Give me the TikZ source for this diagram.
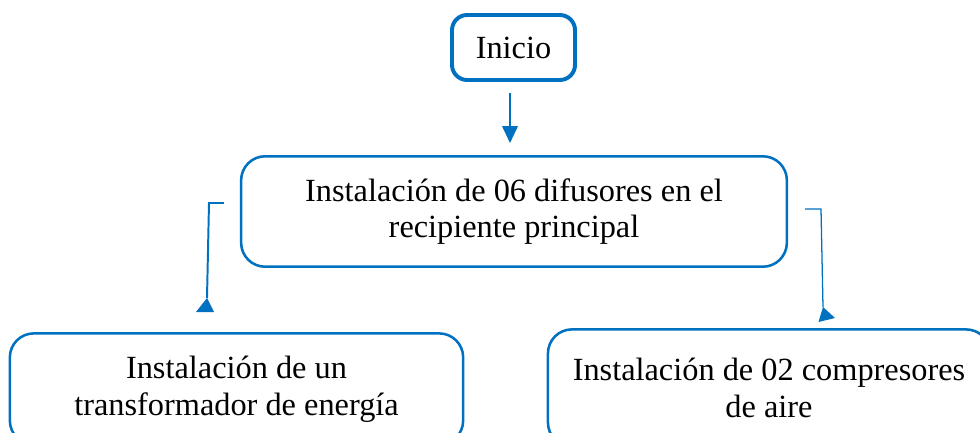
\documentclass[tikz,border=0pt]{standalone}
\usepackage{fontspec}
\setmainfont{Liberation Serif}
\usetikzlibrary{arrows.meta,calc}
\definecolor{flowblue}{RGB}{0,112,192}
\tikzset{
  box/.style={draw=flowblue, rounded corners=0.6cm, line width=1.8pt, align=center,
    inner sep=0pt, font=\fontsize{23}{26}\selectfont},
  link/.style={draw=flowblue, line width=1.4pt},
}
\begin{document}
\begin{tikzpicture}[x=0.025cm,y=-0.025cm]
        \useasboundingbox (0,0) rectangle (980,433);
        \clip (0,0) rectangle (980,433);

        % Boxes
        \node[box, line width=2.8pt, rounded corners=0.38cm, minimum width=3.075cm, minimum height=1.625cm]
            (inicio) at (513.5,47.5) {Inicio};
        \node[box, minimum width=13.64cm, minimum height=2.76cm]
            (difusores) at (514,211.5) {Instalación de 06 difusores en el\\recipiente principal};
        \node[box, minimum width=11.33cm, minimum height=2.78cm]
            (trafo) at (236.5,389) {Instalación de un\\transformador de energía};
        \node[box, minimum width=11.05cm, minimum height=2.93cm]
            (compresores) at (769,388) {Instalación de 02 compresores\\de aire};

        % Arrow from Inicio
        \draw[link, -{Triangle[width=11pt,length=12pt]}, shorten <=0.27cm, shorten >=0.3cm]
            (inicio.south -| 510,0) -- (difusores.north -| 510,0);

        % Side connectors
        \coordinate (lstart) at ($(difusores.west)+(-16,-8.5)$);
        \coordinate (lbend) at (209,203);
        \coordinate (ltip) at (207,298);
        \draw[link] (lstart) -- (lbend) -- (ltip);
        \fill[flowblue] (ltip) -- ++(-11,14) -- ++(18,0) -- cycle;

        \coordinate (rstart) at ($(difusores.east)+(17,-2.5)$);
        \coordinate (rbend) at (821,209);
        \coordinate (rtip) at (823,307);
        \draw[link, line width=0.9pt] (rstart) -- (rbend) -- (rtip);
        \fill[flowblue] (rtip) -- (835,318) -- (818.5,322) -- cycle;
    \end{tikzpicture}
\end{document}
